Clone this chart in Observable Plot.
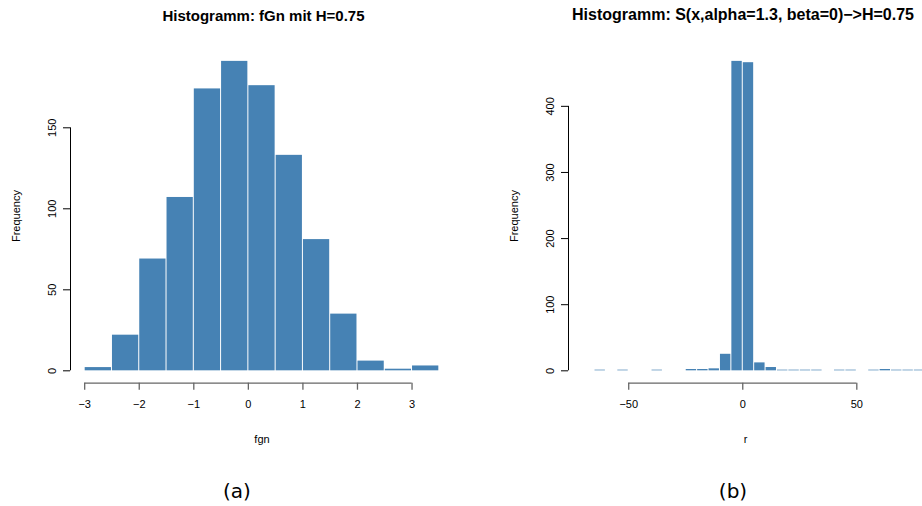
<!DOCTYPE html>
<html>
<head>
<meta charset="utf-8">
<script src="https://cdn.jsdelivr.net/npm/d3@7"></script>
<script src="https://cdn.jsdelivr.net/npm/@observablehq/plot@0.6"></script>
<style>
  body { margin: 0; background: #fff; }
  #fig { position: relative; width: 922px; height: 506px; overflow: hidden; background: #fff;
         font-family: "Liberation Sans", Arial, sans-serif; color: #000; }
  #fig svg { position: absolute; top: 0; }
  .title { position: absolute; font-weight: bold; white-space: nowrap; transform: translateX(-50%); }
  .cap { position: absolute; top: 479px; font-family: "DejaVu Sans", sans-serif; font-size: 20px;
         line-height: 24px; transform: translateX(-50%); }
</style>
</head>
<body>
<div id="fig"></div>
<script>
// Histogram (a): fractional Gaussian noise, bins of width 0.5
const fgnBinWidth = 0.5;
const fgnBinStarts = [-3, -2.5, -2, -1.5, -1, -0.5, 0, 0.5, 1, 1.5, 2, 2.5, 3];
const fgnCounts = [2, 22, 69, 107, 174, 191, 176, 133, 81, 35, 6, 1, 3];
const fgnTicksX = [-3, -2, -1, 0, 1, 2, 3];
const fgnTicksY = [0, 50, 100, 150];

// Histogram (b): stable sample r, bins of width 5 (empty bins left out)
const rBinWidth = 5;
const rBinStarts = [-65, -55, -40, -25, -20, -15, -10, -5, 0, 5, 10, 15, 20, 25, 30, 40, 45, 55, 60, 65, 70, 75];
const rCounts = [1, 1, 1, 2, 2, 3, 25, 468, 466, 12, 5, 1, 1, 1, 1, 1, 1, 1, 2, 1, 1, 1];
const rTicksX = [-50, 0, 50];
const rTicksY = [0, 100, 200, 300, 400];

const titleA = "Histogramm: fGn mit H=0.75";
const titleB = "Histogramm: S(x,alpha=1.3, beta=0)\u2212>H=0.75";
const xLabelA = "fgn", xLabelB = "r", yLabel = "Frequency";
const capA = "(a)", capB = "(b)";

const fig = document.getElementById("fig");

// R-style axis limits: data range padded by 4% on each side
function padded(lo, hi) { const p = 0.04 * (hi - lo); return [lo - p, hi + p]; }

function histogram({starts, counts, width, ticksX, ticksY, xDomain, svgWidth, marginLeft, marginRight, xLabel}) {
  const bins = starts.map((s, i) => ({x1: s, x2: s + width, n: counts[i]}));
  const yDomain = padded(0, d3.max(counts));
  const fmt = d3.format("d");
  return Plot.plot({
    width: svgWidth, height: 450,
    marginLeft, marginRight, marginTop: 48.5, marginBottom: 450 - 382.7,
    style: {fontFamily: "'Liberation Sans', Arial, sans-serif", fontSize: "11px", color: "#000", background: "transparent", overflow: "visible"},
    x: {domain: xDomain},
    y: {domain: yDomain},
    marks: [
      Plot.rectY(bins, {x1: "x1", x2: "x2", y1: 0, y2: "n", fill: "steelblue", insetLeft: 0.5, insetRight: 0.5, clip: true}),
      Plot.ruleY([yDomain[0]], {x1: ticksX[0], x2: ticksX[ticksX.length - 1], stroke: "#666", strokeWidth: 1.3}),
      Plot.ruleX([xDomain[0]], {y1: ticksY[0], y2: ticksY[ticksY.length - 1], stroke: "#000"}),
      Plot.axisX({ticks: ticksX, tickFormat: fmt, tickSize: 7, tickPadding: 10, stroke: "#666", strokeWidth: 1.3,
                  label: xLabel, labelAnchor: "center", labelOffset: 60, labelArrow: "none"}),
      Plot.axisY({ticks: ticksY, tickFormat: fmt, tickSize: 7, tickRotate: -90, tickPadding: 8,
                  label: yLabel, labelAnchor: "center", labelOffset: 58, labelArrow: "none"})
    ]
  });
}

const fgnDomain = padded(fgnBinStarts[0], fgnBinStarts[fgnBinStarts.length - 1] + fgnBinWidth);
const plotA = histogram({starts: fgnBinStarts, counts: fgnCounts, width: fgnBinWidth,
  ticksX: fgnTicksX, ticksY: fgnTicksY, xDomain: fgnDomain,
  svgWidth: 461, marginLeft: 70, marginRight: 8, xLabel: xLabelA});
plotA.style.left = "0px";
fig.appendChild(plotA);

const plotB = histogram({starts: rBinStarts, counts: rCounts, width: rBinWidth,
  ticksX: rTicksX, ticksY: rTicksY, xDomain: [-76.4, 78.8],
  svgWidth: 461, marginLeft: 107, marginRight: 0, xLabel: xLabelB});
plotB.style.left = "461px";
fig.appendChild(plotB);

function addText(cls, text, x, size, top) {
  const d = document.createElement("div");
  d.className = cls; d.textContent = text; d.style.left = x + "px";
  if (size) { d.style.fontSize = size + "px"; d.style.lineHeight = size + "px"; d.style.top = top + "px"; }
  fig.appendChild(d);
}
addText("title", titleA, 263.5, 15, 8);
addText("title", titleB, 743, 16, 7);
addText("cap", capA, 237);
addText("cap", capB, 733);
</script>
</body>
</html>
